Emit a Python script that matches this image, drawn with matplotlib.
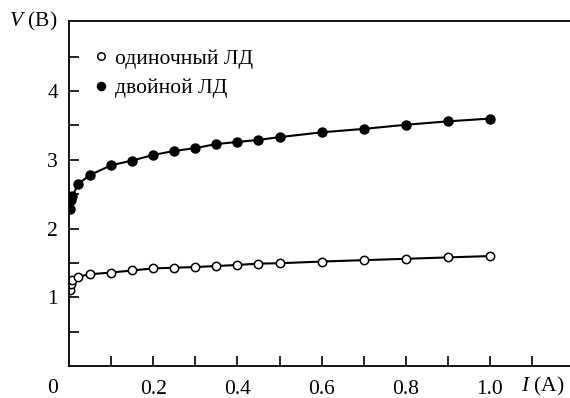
import numpy as np
import matplotlib
matplotlib.use('Agg')
import matplotlib.pyplot as plt
import matplotlib.transforms as mtransforms

plt.rcParams['font.family'] = 'Liberation Serif'
plt.rcParams['mathtext.fontset'] = 'custom'
plt.rcParams['mathtext.it'] = 'Liberation Serif:italic'
plt.rcParams['mathtext.rm'] = 'Liberation Serif'

# current I (A) and voltage V (B)
I_single = [0.002, 0.004, 0.008, 0.022, 0.05, 0.1, 0.15, 0.2, 0.25, 0.3, 0.35,
            0.4, 0.45, 0.5, 0.6, 0.7, 0.8, 0.9, 1.0]
V_single = [1.10, 1.19, 1.25, 1.30, 1.335, 1.36, 1.39, 1.42, 1.43, 1.44, 1.455,
            1.47, 1.49, 1.495, 1.52, 1.54, 1.56, 1.58, 1.60]
I_double = [0.002, 0.004, 0.008, 0.022, 0.05, 0.1, 0.15, 0.2, 0.25, 0.3, 0.35,
            0.4, 0.45, 0.5, 0.6, 0.7, 0.8, 0.9, 1.0]
V_double = [2.29, 2.41, 2.47, 2.65, 2.78, 2.92, 2.99, 3.07, 3.13, 3.17, 3.23,
            3.26, 3.29, 3.33, 3.40, 3.45, 3.51, 3.56, 3.60]

x_ticks = np.arange(0.1, 1.15, 0.1)
x_labels = ['', '0.2', '', '0.4', '', '0.6', '', '0.8', '', '1.0', '']
y_ticks = np.arange(0.5, 5.0, 0.5)
y_labels = ['', '1', '', '2', '', '3', '', '4', '']

fs = 15.5

fig = plt.figure(figsize=(5.7, 3.98), dpi=100)
ax = fig.add_axes([69/570, 32/398, 1 - 69/570, 345/398])

ax.plot(I_single, V_single, '-o', color='k', lw=1.5, ms=6,
        mfc='white', mec='k', mew=1.1, label='одиночный ЛД')
ax.plot(I_double, V_double, '-o', color='k', lw=1.5, ms=6.5,
        mfc='k', mec='k', label='двойной ЛД')

ax.set_xlim(0, 1.19)
ax.set_ylim(0, 5.02)
ax.spines['right'].set_visible(False)
for s in ['left', 'bottom', 'top']:
    ax.spines[s].set_linewidth(1.3)

ax.set_xticks(x_ticks)
ax.set_xticklabels(x_labels)
ax.set_yticks(y_ticks)
ax.set_yticklabels(y_labels)
ax.tick_params(direction='in', length=7, width=1.2, labelsize=fs)
ax.tick_params(axis='x', pad=10)
ax.tick_params(axis='y', pad=8)

trans = mtransforms.blended_transform_factory(ax.transData, ax.transAxes)
ax.text(-0.04, -0.064, '0', transform=trans, ha='center', va='center',
        fontsize=fs, clip_on=False)
ax.text(1.125, -0.058, '$I$ (A)', transform=trans, ha='center', va='center',
        fontsize=fs, clip_on=False)
fig.text(9/570, 1 - 21/398, '$V$ (B)', ha='left', va='center', fontsize=fs)

ax.legend(handles=[ax.lines[0], ax.lines[1]], loc='upper left',
          bbox_to_anchor=(0.05, 0.92), frameon=False, fontsize=fs,
          handlelength=0.6, handletextpad=0.35, borderpad=0, borderaxespad=0,
          labelspacing=0.45, markerscale=0.9)
# markers only in the legend
for h in ax.get_legend().legend_handles:
    h.set_linestyle('none')

plt.savefig('out.png', dpi=100)
plt.close()
